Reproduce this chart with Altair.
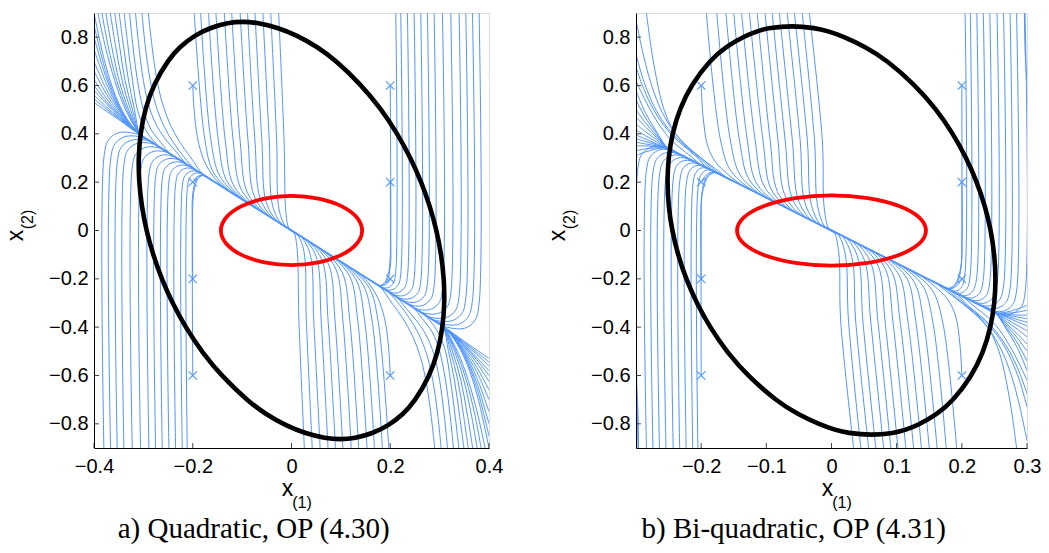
import altair as alt
import pandas as pd

BLUE = "#4f94ff"
Y_DOMAIN = [-0.9, 0.9]
Y_TICKS = [-0.8, -0.6, -0.4, -0.2, 0.0, 0.2, 0.4, 0.6, 0.8]

# ---------------- panel a) Quadratic ----------------
A_X_DOMAIN = [-0.4, 0.4]
A_X_TICKS = [-0.4, -0.2, 0.0, 0.2, 0.4]

# trajectories entering from the left edge and pinching at the black ellipse
A_FAN_LEFT = [
    [(-0.4, 0.90), (-0.375, 0.673), (-0.35, 0.526), (-0.328, 0.446), (-0.306, 0.395), (-0.29, 0.374)],
    [(-0.4, 0.85), (-0.375, 0.650), (-0.35, 0.518), (-0.328, 0.445), (-0.306, 0.395), (-0.29, 0.374)],
    [(-0.4, 0.80), (-0.375, 0.630), (-0.35, 0.512), (-0.328, 0.444), (-0.306, 0.395), (-0.29, 0.374)],
    [(-0.4, 0.75), (-0.375, 0.608), (-0.35, 0.505), (-0.328, 0.441), (-0.306, 0.395), (-0.29, 0.374)],
    [(-0.4, 0.70), (-0.375, 0.584), (-0.35, 0.499), (-0.328, 0.437), (-0.306, 0.395), (-0.29, 0.374)],
    [(-0.4, 0.66), (-0.375, 0.565), (-0.35, 0.490), (-0.328, 0.437), (-0.306, 0.395), (-0.29, 0.374)],
    [(-0.4, 0.625), (-0.375, 0.547), (-0.35, 0.482), (-0.328, 0.434), (-0.306, 0.395), (-0.29, 0.374)],
    [(-0.4, 0.60), (-0.375, 0.534), (-0.35, 0.477), (-0.328, 0.432), (-0.306, 0.395), (-0.29, 0.374)],
    [(-0.4, 0.58), (-0.375, 0.525), (-0.35, 0.473), (-0.328, 0.432), (-0.306, 0.395), (-0.29, 0.374)],
    [(-0.4, 0.56), (-0.375, 0.512), (-0.35, 0.468), (-0.328, 0.430), (-0.306, 0.395), (-0.29, 0.374)],
    [(-0.4, 0.545), (-0.375, 0.503), (-0.35, 0.463), (-0.328, 0.428), (-0.306, 0.395), (-0.29, 0.374)],
    [(-0.4, 0.53), (-0.375, 0.494), (-0.35, 0.459), (-0.328, 0.426), (-0.306, 0.395), (-0.29, 0.374)],
]
# trajectories entering from the top-left corner
A_FAN_TOP = [
    [(-0.392, 0.9), (-0.377, 0.76), (-0.358, 0.62), (-0.336, 0.5), (-0.306, 0.395), (-0.29, 0.374)],
    [(-0.384, 0.9), (-0.371, 0.76), (-0.354, 0.62), (-0.333, 0.5), (-0.306, 0.395), (-0.29, 0.374)],
    [(-0.376, 0.9), (-0.364, 0.76), (-0.349, 0.62), (-0.330, 0.5), (-0.306, 0.395), (-0.29, 0.374)],
    [(-0.367, 0.9), (-0.356, 0.76), (-0.343, 0.62), (-0.326, 0.5), (-0.306, 0.395), (-0.29, 0.374)],
    [(-0.358, 0.9), (-0.348, 0.76), (-0.337, 0.62), (-0.322, 0.5), (-0.306, 0.395), (-0.29, 0.374)],
    [(-0.349, 0.9), (-0.340, 0.76), (-0.330, 0.62), (-0.318, 0.5), (-0.306, 0.395), (-0.29, 0.374)],
    [(-0.339, 0.9), (-0.331, 0.76), (-0.322, 0.62), (-0.312, 0.5), (-0.299, 0.43), (-0.280, 0.372), (-0.262, 0.338), (-0.247, 0.3186)],
    [(-0.328, 0.9), (-0.321, 0.76), (-0.312, 0.62), (-0.300, 0.5), (-0.285, 0.42), (-0.265, 0.365), (-0.245, 0.316), (-0.23, 0.2967)],
    [(-0.316, 0.9), (-0.309, 0.76), (-0.300, 0.62), (-0.288, 0.51), (-0.272, 0.43), (-0.252, 0.37), (-0.232, 0.322), (-0.212, 0.2735), (-0.195, 0.2516)],
    [(-0.303, 0.9), (-0.296, 0.76), (-0.287, 0.63), (-0.275, 0.52), (-0.258, 0.43), (-0.238, 0.36), (-0.218, 0.305), (-0.195, 0.2515), (-0.178, 0.2296)],
    [(-0.290, 0.9), (-0.283, 0.77), (-0.274, 0.64), (-0.262, 0.53), (-0.246, 0.44), (-0.226, 0.365), (-0.205, 0.305), (-0.178, 0.2296), (-0.16, 0.2064)],
]
# near-vertical trajectories from the top, middle
A_MID_TOP = [
    [(-0.197, 0.9), (-0.175, 0.37), (-0.158, 0.240), (-0.118, 0.152), (-0.100, 0.129)],
    [(-0.184, 0.9), (-0.163, 0.37), (-0.145, 0.225), (-0.103, 0.133), (-0.085, 0.1097)],
    [(-0.168, 0.9), (-0.148, 0.37), (-0.131, 0.205), (-0.090, 0.116), (-0.072, 0.0929)],
    [(-0.153, 0.9), (-0.134, 0.37), (-0.118, 0.190), (-0.078, 0.1006), (-0.060, 0.0774)],
    [(-0.136, 0.9), (-0.118, 0.37), (-0.103, 0.175), (-0.066, 0.0851), (-0.048, 0.0619)],
    [(-0.121, 0.9), (-0.104, 0.37), (-0.090, 0.160), (-0.055, 0.0710), (-0.037, 0.0477)],
    [(-0.104, 0.9), (-0.088, 0.37), (-0.076, 0.145), (-0.045, 0.0581), (-0.027, 0.0348)],
    [(-0.089, 0.9), (-0.074, 0.37), (-0.063, 0.130), (-0.035, 0.0452), (-0.017, 0.0219)],
    [(-0.074, 0.9), (-0.060, 0.37), (-0.051, 0.115), (-0.027, 0.0348), (-0.009, 0.0116)],
    [(-0.058, 0.9), (-0.045, 0.37), (-0.038, 0.100), (-0.019, 0.0245), (-0.001, 0.0013)],
    [(-0.042, 0.9), (-0.030, 0.37), (-0.025, 0.085), (-0.011, 0.0142), (0.007, -0.0090)],
    [(-0.026, 0.9), (-0.015, 0.37), (-0.011, 0.070), (-0.004, 0.0052), (0.014, -0.0181)],
]
# trajectories rising from the bottom and hooking onto the slow line
A_HOOKS = [
    [(-0.380, -0.9), (-0.380, 0.30), (-0.371, 0.3735), (-0.350, 0.405), (-0.306, 0.395), (-0.290, 0.374)],
    [(-0.3665, -0.9), (-0.3665, 0.29), (-0.357, 0.36), (-0.335, 0.39), (-0.296, 0.382), (-0.281, 0.3625)],
    [(-0.353, -0.9), (-0.353, 0.28), (-0.344, 0.3465), (-0.322, 0.375), (-0.286, 0.369), (-0.271, 0.3496)],
    [(-0.3395, -0.9), (-0.3395, 0.27), (-0.331, 0.334), (-0.310, 0.362), (-0.276, 0.356), (-0.261, 0.3367)],
    [(-0.3226, -0.9), (-0.3226, 0.26), (-0.314, 0.3195), (-0.293, 0.345), (-0.262, 0.338), (-0.247, 0.3186)],
    [(-0.3057, -0.9), (-0.3057, 0.245), (-0.2975, 0.303), (-0.278, 0.328), (-0.250, 0.3225), (-0.235, 0.3032)],
    [(-0.2888, -0.9), (-0.2888, 0.23), (-0.281, 0.287), (-0.262, 0.312), (-0.236, 0.3044), (-0.221, 0.2851)],
    [(-0.2753, -0.9), (-0.2753, 0.22), (-0.268, 0.274), (-0.250, 0.297), (-0.225, 0.2903), (-0.210, 0.2709)],
    [(-0.2618, -0.9), (-0.2618, 0.21), (-0.255, 0.261), (-0.238, 0.283), (-0.215, 0.2774), (-0.200, 0.258)],
    [(-0.2483, -0.9), (-0.2483, 0.20), (-0.2416, 0.249), (-0.226, 0.270), (-0.205, 0.2645), (-0.190, 0.2451)],
    [(-0.2348, -0.9), (-0.2348, 0.19), (-0.2286, 0.2376), (-0.214, 0.258), (-0.196, 0.2528), (-0.181, 0.2335)],
    [(-0.2213, -0.9), (-0.2213, 0.18), (-0.2158, 0.226), (-0.203, 0.246), (-0.188, 0.2425), (-0.173, 0.2232)],
    [(-0.2112, -0.9), (-0.2112, 0.17), (-0.2064, 0.217), (-0.195, 0.237), (-0.182, 0.2348), (-0.167, 0.2154)],
]
# trajectories that start at the x markers
A_FROM_MARKS = [
    [(-0.2, 0.6), (-0.196, 0.47), (-0.188, 0.36), (-0.175, 0.28), (-0.155, 0.215), (-0.13, 0.1677), (-0.112, 0.1445)],
    [(-0.2, -0.6), (-0.201, 0.0), (-0.2, 0.15), (-0.193, 0.21), (-0.182, 0.228), (-0.17, 0.2193), (-0.155, 0.2)],
    [(-0.2, -0.2), (-0.2, 0.1), (-0.197, 0.17), (-0.189, 0.215), (-0.178, 0.228), (-0.165, 0.2129), (-0.15, 0.1935)],
    [(-0.2, 0.2), (-0.192, 0.222), (-0.18, 0.228), (-0.167, 0.2154), (-0.152, 0.196)],
]
A_SPINE = [(-0.306, 0.395), (0.306, -0.395)]
A_BLACK = [(-0.099, 0.865), (-0.1285, 0.8595), (-0.1638, 0.84), (-0.1959, 0.808), (-0.2264, 0.76),
           (-0.2496, 0.707), (-0.2788, 0.606), (-0.2963, 0.505), (-0.3061, 0.404), (-0.310, 0.303),
           (-0.309, 0.202), (-0.3035, 0.101), (-0.294, 0.0), (-0.2804, -0.101), (-0.2627, -0.202),
           (-0.2406, -0.303), (-0.2135, -0.404), (-0.1807, -0.505), (-0.1399, -0.606), (-0.0876, -0.707),
           (-0.0522, -0.76), (-0.0107, -0.808), (0.0288, -0.84), (0.0682, -0.8595), (0.099, -0.865),
           (0.1285, -0.8595), (0.1638, -0.84), (0.1959, -0.808), (0.2264, -0.76), (0.2496, -0.707),
           (0.2788, -0.606), (0.2963, -0.505), (0.3061, -0.404), (0.310, -0.303), (0.309, -0.202),
           (0.3035, -0.101), (0.294, 0.0), (0.2804, 0.101), (0.2627, 0.202), (0.2406, 0.303),
           (0.2135, 0.404), (0.1807, 0.505), (0.1399, 0.606), (0.0876, 0.707), (0.0522, 0.76),
           (0.0107, 0.808), (-0.0288, 0.84), (-0.0682, 0.8595)]
A_RED = [(0.143, 0.0), (0.132, 0.0547), (0.101, 0.101), (0.0547, 0.132), (0.0, 0.143), (-0.0547, 0.132),
         (-0.101, 0.101), (-0.132, 0.0547), (-0.143, 0.0), (-0.132, -0.0547), (-0.101, -0.101),
         (-0.0547, -0.132), (0.0, -0.143), (0.0547, -0.132), (0.101, -0.101), (0.132, -0.0547)]

# ---------------- panel b) Bi-quadratic ----------------
B_X_DOMAIN = [-0.3, 0.3]
B_X_TICKS = [-0.2, -0.1, 0.0, 0.1, 0.2, 0.3]

B_FAN_LEFT = [
    [(-0.3, 0.58), (-0.285, 0.484), (-0.268, 0.407), (-0.251, 0.34), (-0.236, 0.3198)],
    [(-0.3, 0.54), (-0.285, 0.464), (-0.268, 0.400), (-0.251, 0.34), (-0.236, 0.3198)],
    [(-0.3, 0.50), (-0.285, 0.444), (-0.268, 0.391), (-0.251, 0.34), (-0.236, 0.3198)],
    [(-0.3, 0.47), (-0.285, 0.427), (-0.268, 0.384), (-0.251, 0.34), (-0.236, 0.3198)],
    [(-0.3, 0.44), (-0.285, 0.408), (-0.268, 0.375), (-0.251, 0.34), (-0.236, 0.3198)],
    [(-0.3, 0.415), (-0.285, 0.392), (-0.268, 0.366), (-0.251, 0.34), (-0.236, 0.3198)],
    [(-0.3, 0.395), (-0.285, 0.378), (-0.268, 0.358), (-0.251, 0.34), (-0.236, 0.3198)],
    [(-0.3, 0.38), (-0.285, 0.368), (-0.268, 0.354), (-0.251, 0.34), (-0.236, 0.3198)],
    [(-0.3, 0.365), (-0.285, 0.358), (-0.268, 0.350), (-0.251, 0.34), (-0.236, 0.3198)],
    [(-0.3, 0.35), (-0.285, 0.350), (-0.268, 0.346), (-0.251, 0.34), (-0.236, 0.3198)],
    [(-0.3, 0.33), (-0.285, 0.338), (-0.268, 0.342), (-0.251, 0.34), (-0.236, 0.3198)],
    [(-0.3, 0.31), (-0.285, 0.325), (-0.268, 0.338), (-0.251, 0.34), (-0.236, 0.3198)],
]
B_FAN_TOP = [
    [(-0.3, 0.87), (-0.289, 0.73), (-0.276, 0.60), (-0.26, 0.49), (-0.242, 0.41), (-0.222, 0.35), (-0.2, 0.30), (-0.17, 0.2304), (-0.155, 0.21)],
    [(-0.3, 0.73), (-0.289, 0.625), (-0.276, 0.535), (-0.261, 0.46), (-0.244, 0.40), (-0.225, 0.35), (-0.205, 0.305), (-0.18, 0.244), (-0.165, 0.2236)],
    [(-0.3, 0.675), (-0.288, 0.585), (-0.274, 0.505), (-0.26, 0.445), (-0.245, 0.395), (-0.228, 0.352), (-0.21, 0.312), (-0.19, 0.2575), (-0.175, 0.2371)],
    [(-0.3, 0.62), (-0.287, 0.545), (-0.273, 0.475), (-0.26, 0.42), (-0.247, 0.377), (-0.233, 0.343), (-0.215, 0.305), (-0.2, 0.271), (-0.185, 0.2507)],
    [(-0.284, 0.9), (-0.277, 0.76), (-0.268, 0.62), (-0.257, 0.5), (-0.243, 0.415), (-0.225, 0.355), (-0.205, 0.31), (-0.178, 0.255), (-0.16, 0.2168)],
]
B_MID_TOP = [
    [(-0.192, 0.9), (-0.170, 0.37), (-0.154, 0.245), (-0.118, 0.160), (-0.103, 0.1396)],
    [(-0.176, 0.9), (-0.155, 0.37), (-0.140, 0.229), (-0.106, 0.1436), (-0.091, 0.1233)],
    [(-0.162, 0.9), (-0.141, 0.37), (-0.127, 0.214), (-0.095, 0.1287), (-0.080, 0.1084)],
    [(-0.150, 0.9), (-0.129, 0.37), (-0.116, 0.200), (-0.085, 0.1152), (-0.070, 0.0949)],
    [(-0.138, 0.9), (-0.117, 0.37), (-0.104, 0.187), (-0.075, 0.1016), (-0.060, 0.0813)],
    [(-0.126, 0.9), (-0.105, 0.37), (-0.093, 0.173), (-0.065, 0.0881), (-0.050, 0.0678)],
    [(-0.114, 0.9), (-0.094, 0.37), (-0.083, 0.161), (-0.056, 0.0759), (-0.041, 0.0556)],
    [(-0.102, 0.9), (-0.082, 0.37), (-0.072, 0.149), (-0.047, 0.0637), (-0.032, 0.0434)],
    [(-0.091, 0.9), (-0.071, 0.37), (-0.061, 0.138), (-0.039, 0.0528), (-0.024, 0.0325)],
    [(-0.080, 0.9), (-0.060, 0.37), (-0.051, 0.127), (-0.031, 0.0420), (-0.016, 0.0217)],
    [(-0.068, 0.9), (-0.048, 0.37), (-0.041, 0.116), (-0.023, 0.0312), (-0.008, 0.0108)],
    [(-0.057, 0.9), (-0.037, 0.37), (-0.031, 0.107), (-0.016, 0.0217), (-0.001, 0.0014)],
    [(-0.045, 0.9), (-0.026, 0.37), (-0.021, 0.097), (-0.009, 0.0122), (0.006, -0.0081)],
    [(-0.034, 0.9), (-0.014, 0.37), (-0.011, 0.089), (-0.003, 0.0041), (0.012, -0.0163)],
]
B_HOOKS = [
    [(-0.297, -0.9), (-0.297, 0.26), (-0.290, 0.32), (-0.273, 0.347), (-0.251, 0.340), (-0.236, 0.3198)],
    [(-0.284, -0.9), (-0.284, 0.25), (-0.277, 0.31), (-0.262, 0.335), (-0.242, 0.3279), (-0.227, 0.3076)],
    [(-0.274, -0.9), (-0.274, 0.24), (-0.267, 0.30), (-0.252, 0.323), (-0.233, 0.3157), (-0.218, 0.2954)],
    [(-0.264, -0.9), (-0.264, 0.23), (-0.257, 0.29), (-0.243, 0.312), (-0.225, 0.3049), (-0.210, 0.2846)],
    [(-0.254, -0.9), (-0.254, 0.22), (-0.247, 0.28), (-0.234, 0.301), (-0.217, 0.2940), (-0.202, 0.2737)],
    [(-0.243, -0.9), (-0.243, 0.21), (-0.237, 0.27), (-0.225, 0.290), (-0.209, 0.2832), (-0.194, 0.2629)],
    [(-0.233, -0.9), (-0.233, 0.20), (-0.227, 0.26), (-0.216, 0.279), (-0.202, 0.2737), (-0.187, 0.2534)],
    [(-0.223, -0.9), (-0.223, 0.19), (-0.217, 0.25), (-0.207, 0.269), (-0.195, 0.2642), (-0.180, 0.2439)],
    [(-0.213, -0.9), (-0.213, 0.18), (-0.208, 0.24), (-0.199, 0.259), (-0.188, 0.2547), (-0.173, 0.2344)],
    [(-0.205, -0.9), (-0.205, 0.17), (-0.200, 0.232), (-0.192, 0.250), (-0.182, 0.2466), (-0.167, 0.2263)],
]
B_FROM_MARKS = [
    [(-0.2, 0.6), (-0.197, 0.47), (-0.19, 0.35), (-0.177, 0.28), (-0.16, 0.235), (-0.135, 0.183), (-0.12, 0.1626)],
    [(-0.2, -0.6), (-0.2, 0.0), (-0.199, 0.15), (-0.193, 0.215), (-0.183, 0.24), (-0.17, 0.2304), (-0.155, 0.21)],
    [(-0.2, -0.2), (-0.2, 0.1), (-0.197, 0.17), (-0.189, 0.225), (-0.177, 0.24), (-0.165, 0.2236), (-0.15, 0.2033)],
    [(-0.2, 0.2), (-0.191, 0.232), (-0.179, 0.243), (-0.166, 0.2249), (-0.15, 0.2033)],
    [(-0.296, -0.92), (-0.297, -0.75), (-0.300, -0.62), (-0.305, -0.52)],
]
B_SPINE = [(-0.251, 0.34), (0.251, -0.34)]
B_BLACK = [(-0.0611, 0.848), (-0.0965, 0.838), (-0.1136, 0.825), (-0.1321, 0.806), (-0.1623, 0.76),
           (-0.1859, 0.706), (-0.2147, 0.605), (-0.2329, 0.504), (-0.2442, 0.403), (-0.2503, 0.302),
           (-0.2522, 0.2016), (-0.2502, 0.1008), (-0.2447, 0.0), (-0.2357, -0.1008), (-0.2231, -0.2016),
           (-0.2067, -0.302), (-0.186, -0.403), (-0.1601, -0.504), (-0.1274, -0.605), (-0.084, -0.706),
           (-0.0525, -0.76), (-0.0157, -0.806), (0.0056, -0.825), (0.0243, -0.838), (0.0611, -0.848),
           (0.0965, -0.838), (0.1136, -0.825), (0.1321, -0.806), (0.1623, -0.76), (0.1859, -0.706),
           (0.2147, -0.605), (0.2329, -0.504), (0.2442, -0.403), (0.2503, -0.302), (0.2522, -0.2016),
           (0.2502, -0.1008), (0.2447, 0.0), (0.2357, 0.1008), (0.2231, 0.2016), (0.2067, 0.302),
           (0.186, 0.403), (0.1601, 0.504), (0.1274, 0.605), (0.084, 0.706), (0.0525, 0.76),
           (0.0157, 0.806), (-0.0056, 0.825), (-0.0243, 0.838)]
B_RED = [(0.145, 0.0), (0.134, 0.0555), (0.1025, 0.1025), (0.0555, 0.134), (0.0, 0.145), (-0.0555, 0.134),
         (-0.1025, 0.1025), (-0.134, 0.0555), (-0.145, 0.0), (-0.134, -0.0555), (-0.1025, -0.1025),
         (-0.0555, -0.134), (0.0, -0.145), (0.0555, -0.134), (0.1025, -0.1025), (0.134, -0.0555)]

MARKS_X = [-0.2, -0.2, -0.2, -0.2, 0.2, 0.2, 0.2, 0.2]
MARKS_Y = [0.6, 0.2, -0.2, -0.6, 0.6, 0.2, -0.2, -0.6]

PLOT_H = 435
X_SHAPE = "M-1,-1L1,1M-1,1L1,-1"
SANS = "Liberation Sans"


def curves_frame(families):
    rows = []
    cid = 0
    for fam in families:
        for curve in fam:
            for i, (x, y) in enumerate(curve):
                rows.append({"cid": cid, "i": i, "x": x, "y": y})
            cid += 1
    return pd.DataFrame(rows)


def pts_frame(points):
    return pd.DataFrame({"i": list(range(len(points))),
                         "x": [p[0] for p in points], "y": [p[1] for p in points]})


LABEL_EXPR = "datum.value == 0 ? '0' : format(datum.value, '.1f')"


def text_layer(txt, size, x, y, angle=0):
    return alt.Chart(pd.DataFrame({"t": [txt]})).mark_text(
        font=SANS, fontSize=size, color="black", align="center", baseline="alphabetic", angle=angle
    ).encode(text="t:N", x=alt.value(x), y=alt.value(y))


def panel(xdom, xticks, families, spine, black, red, caption, width):
    def xs(rev=False):
        return alt.Scale(domain=xdom, nice=False, zero=False, reverse=rev)

    def ys(rev=False):
        return alt.Scale(domain=Y_DOMAIN, nice=False, zero=False, reverse=rev)

    traj = curves_frame(families)

    def traj_layer(rev):
        # the field is point-symmetric about the origin: the reversed scales draw the other half
        return alt.Chart(traj).mark_line(
            interpolate="catmull-rom", clip=True, color=BLUE, strokeWidth=1
        ).encode(
            x=alt.X("x:Q", scale=xs(rev), axis=None),
            y=alt.Y("y:Q", scale=ys(rev), axis=None),
            detail="cid:N",
            order="i:Q",
        )

    spine_l = alt.Chart(pts_frame(spine)).mark_line(clip=True, color=BLUE, strokeWidth=1.8).encode(
        x=alt.X("x:Q", scale=xs(), axis=None), y=alt.Y("y:Q", scale=ys(), axis=None), order="i:Q")

    black_l = alt.Chart(pts_frame(black)).mark_line(
        interpolate="basis-closed", color="black", strokeWidth=4.6, clip=True
    ).encode(
        x=alt.X("x:Q", scale=xs(), axis=alt.Axis(
            values=xticks, title=None, ticks=False, grid=False, domainColor="black",
            domainWidth=1, labelFont=SANS, labelFontSize=20, labelColor="black",
            labelPadding=8, labelExpr=LABEL_EXPR, labelFlush=False, labelOverlap=False, zindex=1)),
        y=alt.Y("y:Q", scale=ys(), axis=alt.Axis(
            values=Y_TICKS, title=None, ticks=False, grid=False, domainColor="black",
            domainWidth=1, labelFont=SANS, labelFontSize=20, labelColor="black",
            labelPadding=6, labelExpr=LABEL_EXPR, labelFlush=False, labelOverlap=False, zindex=1)),
        order="i:Q",
    )

    red_l = alt.Chart(pts_frame(red)).mark_line(
        interpolate="cardinal-closed", color="#ff0000", strokeWidth=3.8
    ).encode(x=alt.X("x:Q", scale=xs(), axis=None), y=alt.Y("y:Q", scale=ys(), axis=None), order="i:Q")

    marks = alt.Chart(pd.DataFrame({"x": MARKS_X, "y": MARKS_Y})).mark_point(
        shape=X_SHAPE, size=70, filled=False, color=BLUE, strokeWidth=1.1, opacity=1
    ).encode(x=alt.X("x:Q", scale=xs(), axis=None), y=alt.Y("y:Q", scale=ys(), axis=None))

    xtick = alt.Chart(pd.DataFrame({"v": xticks})).mark_rule(color="#444444", strokeWidth=1).encode(
        x=alt.X("v:Q", scale=xs(), axis=None), y=alt.value(PLOT_H), y2=alt.value(PLOT_H - 5))
    ytick = alt.Chart(pd.DataFrame({"v": Y_TICKS})).mark_rule(color="#444444", strokeWidth=1).encode(
        y=alt.Y("v:Q", scale=ys(), axis=None), x=alt.value(0), x2=alt.value(5))

    # axis titles x(1) and x(2), with the index as a smaller subscript
    titles = [
        text_layer("x", 23, width / 2 - 4, PLOT_H + 47.5),
        text_layer("(1)", 16, width / 2 + 10.5, PLOT_H + 59.5),
        text_layer("x", 23, -71.5, PLOT_H / 2 + 5, angle=270),
        text_layer("(2)", 16, -61.5, PLOT_H / 2 - 11, angle=270),
    ]

    return alt.layer(
        traj_layer(False), traj_layer(True), spine_l, black_l, red_l, marks, xtick, ytick, *titles
    ).resolve_scale(x="independent", y="independent").properties(
        width=width, height=PLOT_H,
        title=alt.TitleParams(caption, orient="bottom", anchor="middle", frame="bounds",
                              font="Liberation Serif", fontSize=29, fontWeight="normal",
                              color="black", offset=4),
    )


pa = panel(A_X_DOMAIN, A_X_TICKS, [A_FAN_LEFT, A_FAN_TOP, A_MID_TOP, A_HOOKS, A_FROM_MARKS],
           A_SPINE, A_BLACK, A_RED, "a) Quadratic, OP (4.30)", 395)
pb = panel(B_X_DOMAIN, B_X_TICKS, [B_FAN_LEFT, B_FAN_TOP, B_MID_TOP, B_HOOKS, B_FROM_MARKS],
           B_SPINE, B_BLACK, B_RED, "b) Bi-quadratic, OP (4.31)", 391)

chart = alt.hconcat(pa, pb, spacing=42).properties(
    padding={"left": 4, "top": 12, "right": 4, "bottom": 2}
).configure_view(stroke=None).configure(background="white")

chart.save("out.html", embed_options={"renderer": "svg", "actions": False})
